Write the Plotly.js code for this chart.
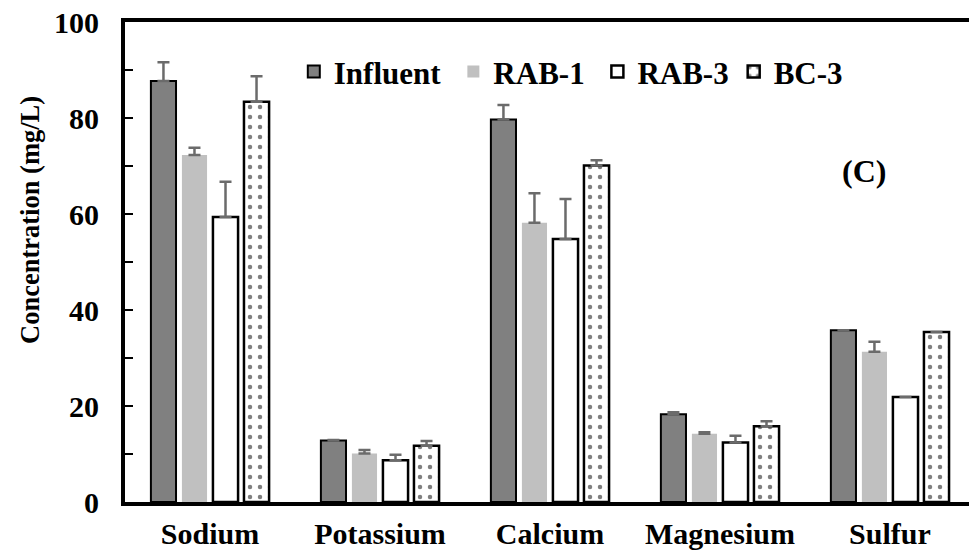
<!DOCTYPE html>
<html>
<head>
<meta charset="utf-8">
<script src="https://cdn.plot.ly/plotly-3.0.1.min.js"></script>
<style>html,body{margin:0;padding:0;background:#fff;}#chart{width:969px;height:556px;}</style>
</head>
<body>
<div id="chart"></div>
<script>
const categories = ['Sodium', 'Potassium', 'Calcium', 'Magnesium', 'Sulfur'];
const seriesNames = ['Influent', 'RAB-1', 'RAB-3', 'BC-3'];
const influent = [87.7, 12.8, 79.7, 18.3, 35.8];
const influentErr = [3.9, 0.1, 3.0, 0.4, 0];
const rab1 = [72.3, 10.1, 58.2, 14.2, 31.3];
const rab1Err = [1.5, 0.75, 6.1, 0.35, 2.1];
const rab3 = [59.4, 8.7, 54.8, 12.4, 21.9];
const rab3Err = [7.3, 1.15, 8.3, 1.4, 0];
const bc3 = [83.4, 11.7, 70.1, 15.8, 35.4];
const bc3Err = [5.3, 1.0, 1.1, 1.0, 0];
const yTicks = [0, 20, 40, 60, 80, 100];

const FONT = 'Liberation Serif, Times New Roman, serif';
const PAD = '\u00a0';
function errBar(arr) {
  return {type: 'data', symmetric: false, array: arr, arrayminus: arr.map(() => 0),
          color: '#6b6b6b', thickness: 2.5, width: 6};
}
const traces = [
  {name: seriesNames[0] + PAD, x: categories, y: influent, error_y: errBar(influentErr),
   marker: {color: '#808080', line: {color: '#000', width: 2}}},
  {name: seriesNames[1] + PAD, x: categories, y: rab1, error_y: errBar(rab1Err),
   marker: {color: '#c0c0c0', line: {color: '#c0c0c0', width: 0}}},
  {name: seriesNames[2], x: categories, y: rab3, error_y: errBar(rab3Err),
   marker: {color: '#ffffff', line: {color: '#000', width: 2.5}}},
  {name: seriesNames[3], x: categories, y: bc3, error_y: errBar(bc3Err),
   marker: {color: '#ffffff', line: {color: '#000', width: 2.5},
            pattern: {shape: '.', fgcolor: '#000', bgcolor: '#fff', size: 10, solidity: 0.16, fillmode: 'overlay'}}}
].map(t => Object.assign({type: 'bar', hoverinfo: 'none'}, t));

const layout = {
  width: 969, height: 556,
  margin: {l: 125, r: 0, t: 22, b: 54, pad: 0},
  paper_bgcolor: '#fff', plot_bgcolor: '#fff',
  font: {family: FONT, color: '#000', size: 28, weight: 'bold'},
  barmode: 'group', bargap: 0.27, bargroupgap: 0.19,
  showlegend: true,
  legend: {orientation: 'h', x: 0.2, xanchor: 'left', y: 0.896, yanchor: 'middle',
           font: {family: FONT, size: 31, weight: 'bold', color: '#000'},
           bgcolor: 'rgba(0,0,0,0)', itemclick: false, traceorder: 'normal', tracegroupgap: 0},
  xaxis: {type: 'category', range: [-0.5, 4.465], showline: true, linecolor: '#000', linewidth: 4,
          mirror: true, ticks: '', showgrid: false, zeroline: false, fixedrange: true,
          tickfont: {family: FONT, size: 30, weight: 'bold'}, ticklabelstandoff: 2},
  yaxis: {range: [0, 100], tickvals: yTicks, ticktext: yTicks.map(String), showline: true,
          linecolor: '#000', linewidth: 4, ticks: 'inside', ticklen: 8, tickwidth: 2, tickcolor: '#000',
          minor: {dtick: 10, ticks: 'inside', ticklen: 8, tickwidth: 2, tickcolor: '#000', showgrid: false},
          showgrid: false, zeroline: false, fixedrange: true,
          tickfont: {family: FONT, size: 30, weight: 'bold'}, ticklabelstandoff: 16},
  annotations: [
    {text: 'Concentration (mg/L)', xref: 'paper', yref: 'paper', x: -0.1126, y: 0.5875,
     xanchor: 'center', yanchor: 'middle',
     textangle: -90, showarrow: false, font: {family: FONT, size: 26.5, weight: 'bold'}},
    {text: '(C)', xref: 'paper', yref: 'paper', x: 0.876, y: 0.69, xanchor: 'center', yanchor: 'middle',
     showarrow: false, font: {family: FONT, size: 32, weight: 'bold'}}
  ]
};
Plotly.newPlot('chart', traces, layout, {staticPlot: true, displayModeBar: false});
</script>
</body>
</html>
